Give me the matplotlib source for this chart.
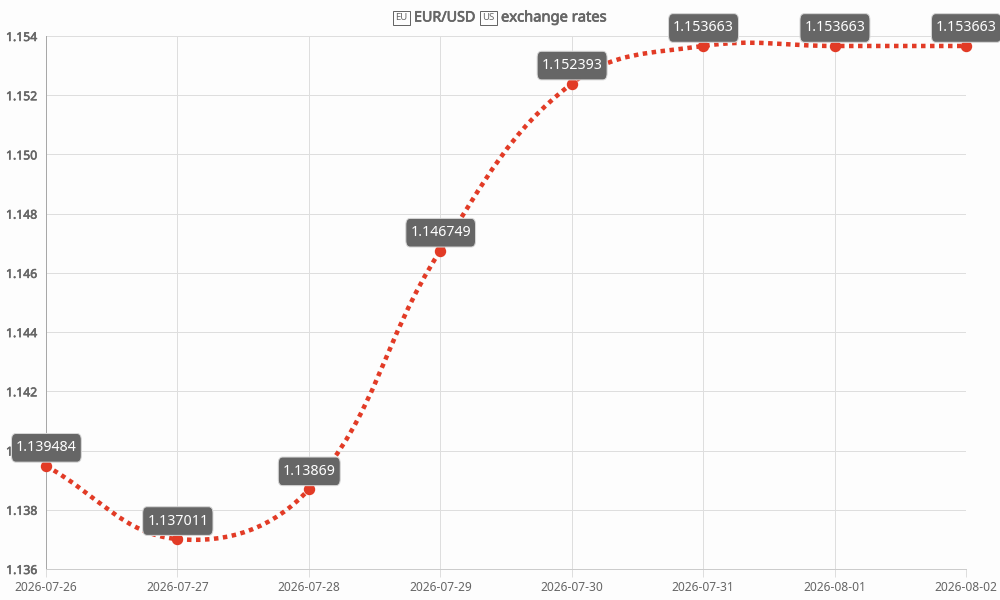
import numpy as np
import matplotlib
matplotlib.use('Agg')
import matplotlib.pyplot as plt
import matplotlib.patheffects as pe
from matplotlib.path import Path
from matplotlib.patches import PathPatch

dates = ['2026-07-26', '2026-07-27', '2026-07-28', '2026-07-29',
         '2026-07-30', '2026-07-31', '2026-08-01', '2026-08-02']
rates = [1.139484, 1.137011, 1.13869, 1.146749, 1.152393, 1.153663, 1.153663, 1.153663]
y_ticks = [1.136, 1.138, 1.140, 1.142, 1.144, 1.146, 1.148, 1.150, 1.152, 1.154]

plt.rcParams['font.family'] = ['Noto Sans', 'DejaVu Sans']
GREY = '#666666'
RED = '#e23b26'
GRID = '#dedede'
BG = '#fdfdfd'


def px(n):
    # css pixels to points at dpi 100
    return n * 72 / 100


def fake_bold(t, w=0.7):
    # the installed Noto Sans has no bold face to pick
    t.set_path_effects([pe.withStroke(linewidth=px(w), foreground=t.get_color())])


def spline_path(xs, ys, tension=0.4):
    # same control points as a chart.js line, worked out in pixel space
    pts = np.column_stack([xs, ys])
    verts = [pts[0]]
    codes = [Path.MOVETO]
    n = len(pts)
    out = [pts[0]] * n
    inn = [pts[0]] * n
    for i in range(n):
        prev = pts[max(i - 1, 0)]
        nxt = pts[min(i + 1, n - 1)]
        d01 = np.hypot(*(pts[i] - prev))
        d12 = np.hypot(*(nxt - pts[i]))
        total = d01 + d12
        s01 = d01 / total
        s12 = d12 / total
        inn[i] = pts[i] - tension * s01 * (nxt - prev)
        out[i] = pts[i] + tension * s12 * (nxt - prev)
    for i in range(1, n):
        verts += [out[i - 1], inn[i], pts[i]]
        codes += [Path.CURVE4] * 3
    return Path(np.array(verts), codes)


fig = plt.figure(figsize=(10, 6), dpi=100, facecolor=BG)
ax = fig.add_axes([46 / 1000, 1 - 569 / 600, 920 / 1000, 533 / 600], facecolor=BG)
x = np.arange(len(dates))
ax.set_xlim(0, len(dates) - 1)
ax.set_ylim(y_ticks[0], y_ticks[-1])

ax.set_xticks(x)
ax.set_xticklabels(dates)
ax.set_yticks(y_ticks)
ax.set_yticklabels(['%.3f' % v for v in y_ticks])
ax.grid(True, color=GRID, linewidth=px(1))
ax.set_axisbelow(True)
ax.tick_params(axis='x', length=px(8), width=px(1), color=GRID, labelsize=px(12),
               labelcolor=GREY, pad=px(4))
ax.tick_params(axis='y', length=0, labelsize=px(12.2), labelcolor=GREY, pad=px(9))
for t in ax.get_yticklabels():
    fake_bold(t, 0.6)
for side in ['top', 'right']:
    ax.spines[side].set_visible(False)
ax.spines['left'].set_color('#a8a8a8')
ax.spines['bottom'].set_color('#cccccc')
ax.spines['left'].set_linewidth(px(1))
ax.spines['bottom'].set_linewidth(px(1))

# curve
disp = ax.transData.transform(np.column_stack([x, rates]))
curve = spline_path(disp[:, 0], disp[:, 1])
curve = Path(ax.transData.inverted().transform(curve.vertices), curve.codes)
ax.add_patch(PathPatch(curve, fill=False, edgecolor=RED, linewidth=px(4.5),
                       linestyle=(0, (1, 1)), capstyle='butt', clip_on=False, zorder=3))
ax.plot(x, rates, linestyle='none', marker='o', markersize=px(10), color=RED,
        clip_on=False, zorder=4)

# value labels
for xi, v in zip(x, rates):
    ax.annotate(str(v), (xi, v), xytext=(px(0.4), px(18)), textcoords='offset points',
                ha='center', va='center', color='white', fontsize=px(14.2), zorder=10,
                annotation_clip=False,
                bbox=dict(boxstyle='round,pad=0.32,rounding_size=0.3', facecolor=GREY,
                          edgecolor='#d8d8d8', linewidth=px(1), mutation_aspect=1.5))

# title, flags are small outlined tags
title_y = 1 - 18 / 600
for xc, code in [(401.5, 'EU'), (488.5, 'US')]:
    fig.text(xc / 1000, title_y, code, ha='center', va='center', fontsize=px(9.5),
             color=GREY, bbox=dict(boxstyle='square,pad=0.22', facecolor=BG,
                                   edgecolor=GREY, linewidth=px(1)))
for left, size, words in [(414, 14.3, 'EUR/USD'), (501, 14.7, 'exchange rates')]:
    t = fig.text(left / 1000, title_y, words, ha='left', va='center', fontsize=px(size),
                 color=GREY)
    fake_bold(t, 0.7)

fig.savefig('out.png', dpi=100, facecolor=BG)
